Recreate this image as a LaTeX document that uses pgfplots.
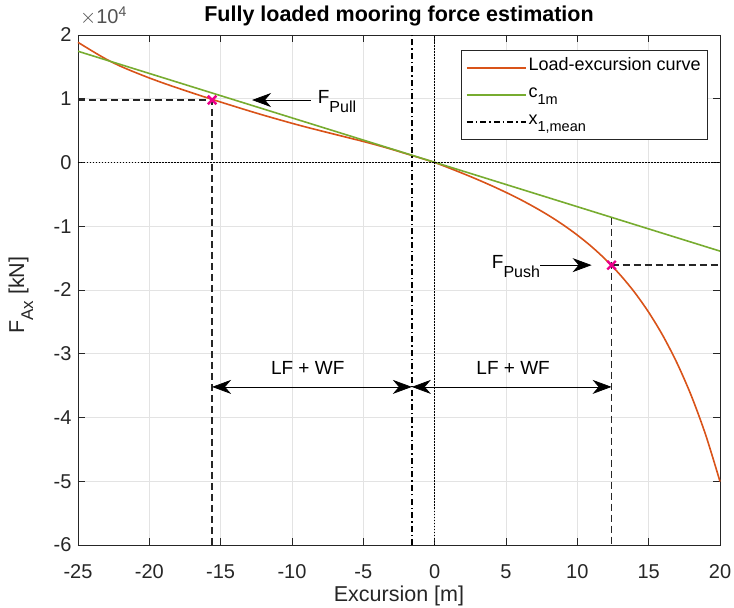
\documentclass[border=0pt]{standalone}
\usepackage{fontspec}
\setmainfont{Liberation Sans}
\usepackage{pgfplots}
\pgfplotsset{compat=1.18}
\usetikzlibrary{arrows.meta}

\definecolor{mlorange}{rgb}{0.85,0.325,0.098}
\definecolor{mlgreen}{rgb}{0.466,0.674,0.188}
\definecolor{axgray}{HTML}{262626}
\definecolor{gridgray}{HTML}{E3E3E3}

% MATLAB-like subscript: {size}{drop}{text}
\newcommand{\sub}[3]{\raisebox{#2}{\fontsize{#1}{#1}\selectfont #3}}

\tikzset{bigarrow/.tip={Stealth[length=19pt,width=14pt,inset=6pt]}}

\begin{document}
\begin{tikzpicture}[font=\fontsize{19}{22}\selectfont]
\useasboundingbox (-78pt,-63pt) rectangle (656pt,545pt);
\begin{axis}[
    scale only axis,
    width=642pt, height=510pt,
    at={(0,0)}, anchor=south west,
    clip=false,
    xmin=-25, xmax=20, ymin=-6, ymax=2,
    xtick={-25,-20,...,20}, ytick={-6,-5,...,2},
    grid=major,
    major grid style={gridgray, line width=0.6pt},
    axis line style={axgray, line width=0.7pt},
    tick style={axgray, line width=0.7pt},
    tick align=inside, major tick length=7pt,
    ticklabel style={text=axgray, font=\fontsize{20}{22}\selectfont},
    xticklabel style={yshift=-16pt},
    yticklabel style={xshift=-3pt},
    /pgf/number format/assume math mode=true,
    title={\bfseries\fontsize{21.5}{24}\selectfont Fully loaded mooring force estimation},
    title style={at={(axis description cs:0.5,1.026)}, anchor=center},
    xlabel={Excursion [m]},
    xlabel style={at={(axis description cs:0.5,-0.099)}, anchor=center, text=axgray,
        font=\fontsize{21.5}{24}\selectfont},
    ylabel={F\sub{17}{-9pt}{Ax} [kN]},
    ylabel style={at={(axis description cs:-0.089,0.49)}, anchor=center, text=axgray,
        font=\fontsize{21.5}{24}\selectfont},
    legend style={at={(0.9813,0.9706)}, anchor=north east, draw=axgray,
        line width=0.7pt, fill=white, inner xsep=5pt, inner ysep=4pt,
        row sep=0pt, font=\fontsize{18}{20}\selectfont,
        nodes={text height=14pt, text depth=9pt, inner sep=2pt}},
    legend cell align=left,
    legend image code/.code={\draw[#1] (0pt,0pt) -- (59pt,0pt);},
]

% load-excursion curve (x10^4 kN)
\addplot[mlorange, line width=1.6pt, smooth] coordinates {
    (-25,1.885) (-24,1.748) (-23,1.618) (-22,1.508) (-21,1.414)
    (-20,1.326) (-19,1.244) (-18,1.167) (-17,1.092) (-16,1.019)
    (-15,0.948) (-14,0.878) (-13,0.809) (-12,0.742) (-11,0.678)
    (-10,0.615) (-9,0.555) (-8,0.498) (-7,0.442) (-6,0.386)
    (-5,0.330) (-4,0.270) (-3,0.206) (-2,0.138) (-1,0.070) (0,0)
    (1,-0.085) (2,-0.174) (3,-0.267) (4,-0.365) (5,-0.469)
    (6,-0.580) (7,-0.701) (8,-0.832) (9,-0.977) (10,-1.139)
    (11,-1.320) (12,-1.526) (13,-1.762) (14,-2.033) (15,-2.349)
    (16,-2.718) (17,-3.152) (18,-3.665) (19,-4.276) (20,-5.004)
};
\addlegendentry{Load-excursion curve}

% linear stiffness c_1m
\addplot[mlgreen, line width=1.6pt] coordinates {(-25,1.745) (20,-1.39)};
\addlegendentry{c\sub{14.5}{-7pt}{1m}}

% mean offset
\addplot[black, line width=1.4pt, dash pattern=on 6pt off 3pt on 1.5pt off 3pt]
    coordinates {(-1.6,-6) (-1.6,2)};
\addlegendentry{x\sub{14.5}{-7pt}{1,mean}}

% zero lines
\addplot[black, line width=1.2pt, dash pattern=on 1.5pt off 1.5pt, forget plot]
    coordinates {(0,-6) (0,2)};
\addplot[black, line width=1.2pt, dash pattern=on 1.5pt off 1.5pt, forget plot]
    coordinates {(-25,0) (20,0)};

% pull / push read-off lines
\addplot[axgray, line width=1.6pt, dash pattern=on 7pt off 4pt, forget plot]
    coordinates {(-25,0.98) (-15.6,0.98) (-15.6,-6)};
\addplot[axgray, line width=1.6pt, dash pattern=on 7pt off 4pt, forget plot]
    coordinates {(12.4,-0.864) (12.4,-6)};
\addplot[axgray, line width=1.6pt, dash pattern=on 7pt off 4pt, forget plot]
    coordinates {(12.4,-1.61) (20,-1.61)};

% pull / push points
\addplot[only marks, mark=x, mark size=6pt, magenta, line width=2.4pt, forget plot]
    coordinates {(-15.6,0.98) (12.4,-1.61)};

% annotations
\draw[-bigarrow, line width=0.7pt] (axis cs:-8.7,0.98) -- (axis cs:-12.8,0.98);
\node[anchor=base west, inner sep=0pt] at (axis cs:-8.2,0.93) {F\sub{16}{-9pt}{Pull}};

\draw[-bigarrow, line width=0.7pt] (axis cs:7.4,-1.61) -- (axis cs:11.0,-1.61);
\node[anchor=base west, inner sep=0pt] at (axis cs:4.0,-1.67) {F\sub{16}{-9pt}{Push}};

\draw[bigarrow-bigarrow, line width=0.7pt] (axis cs:-15.6,-3.52) -- (axis cs:-1.6,-3.52);
\draw[bigarrow-bigarrow, line width=0.7pt] (axis cs:-1.6,-3.52) -- (axis cs:12.4,-3.52);
\node[anchor=base] at (axis cs:-8.9,-3.33) {LF + WF};
\node[anchor=base] at (axis cs:5.5,-3.33) {LF + WF};

\node[anchor=base west, inner sep=0pt, text=axgray!80, font=\fontsize{20}{22}\selectfont]
    at (rel axis cs:0.003,1.022) {$\times$10\textsuperscript{4}};
\end{axis}
\end{tikzpicture}
\end{document}
